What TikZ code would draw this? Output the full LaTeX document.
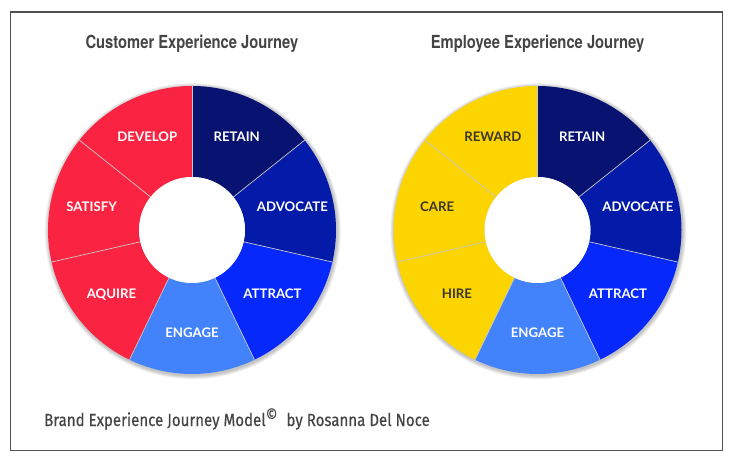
\documentclass[tikz,border=0pt]{standalone}
\usepackage{fontspec}
\setmainfont{Lato}
\newfontfamily\headfont[FakeStretch=0.82]{TeX Gyre Heros}
\newfontfamily\footfont[FakeStretch=0.86, FakeBold=0.5]{Fira Sans}

\definecolor{retainblue}{RGB}{8,18,112}
\definecolor{advocateblue}{RGB}{4,26,168}
\definecolor{attractblue}{RGB}{6,40,250}
\definecolor{engageblue}{RGB}{66,130,250}
\definecolor{custred}{RGB}{250,36,66}
\definecolor{empyellow}{RGB}{252,212,0}
\definecolor{textgray}{RGB}{68,68,68}
\definecolor{framegray}{RGB}{80,80,80}
\definecolor{darklbl}{RGB}{58,54,40}

\tikzset{
  seglabel/.style={font=\bfseries\fontsize{13.2}{15}\selectfont, text=white},
  darklabel/.style={seglabel, text=darklbl},
  divider/.style={draw=white!55!gray, line width=0.7pt},
  heading/.style={font=\headfont\bfseries\fontsize{18}{21}\selectfont, text=textgray, anchor=base},
}

\begin{document}
\begin{tikzpicture}[x=1pt,y=1pt]
  \useasboundingbox (0,0) rectangle (730,460);
  \draw[framegray, line width=1.2pt] (10.5,9.5) rectangle (722.5,448);

  \node[heading] (custtitle) at (192,411) {Customer Experience Journey};
  \node[heading] (emptitle) at (537.5,411) {Employee Experience Journey};

  % customer wheel
  \begin{scope}[shift={(192,230)}]
    \foreach \i in {1,...,5} \fill[black, opacity=0.05] (0.8,-1.2) circle (144+\i*0.8);
    \foreach \col/\txt/\sty [count=\k from 0] in {retainblue/RETAIN/seglabel, advocateblue/ADVOCATE/seglabel, attractblue/ATTRACT/seglabel, engageblue/ENGAGE/seglabel, custred/AQUIRE/seglabel, custred/SATISFY/seglabel, custred/DEVELOP/seglabel} {
      \fill[\col] ({90-\k*360/7}:144) arc[start angle={90-\k*360/7}, end angle={90-(\k+1)*360/7}, radius=144]
        -- ({90-(\k+1)*360/7}:53) arc[start angle={90-(\k+1)*360/7}, end angle={90-\k*360/7}, radius=53] -- cycle;
      \node[\sty] (cust-\k) at ({90-(\k+0.5)*360/7}:103) {\txt};
    }
    \foreach \k in {0,...,6} \draw[divider] ({90-\k*360/7}:53) -- ({90-\k*360/7}:144);
    \fill[white] (0,0) circle (53);
  \end{scope}

  % employee wheel
  \begin{scope}[shift={(537.5,230)}]
    \foreach \i in {1,...,5} \fill[black, opacity=0.05] (0.8,-1.2) circle (144+\i*0.8);
    \foreach \col/\txt/\sty [count=\k from 0] in {retainblue/RETAIN/seglabel, advocateblue/ADVOCATE/seglabel, attractblue/ATTRACT/seglabel, engageblue/ENGAGE/seglabel, empyellow/HIRE/darklabel, empyellow/CARE/darklabel, empyellow/REWARD/darklabel} {
      \fill[\col] ({90-\k*360/7}:144) arc[start angle={90-\k*360/7}, end angle={90-(\k+1)*360/7}, radius=144]
        -- ({90-(\k+1)*360/7}:53) arc[start angle={90-(\k+1)*360/7}, end angle={90-\k*360/7}, radius=53] -- cycle;
      \node[\sty] (emp-\k) at ({90-(\k+0.5)*360/7}:103) {\txt};
    }
    \foreach \k in {0,...,6} \draw[divider] ({90-\k*360/7}:53) -- ({90-\k*360/7}:144);
    \fill[white] (0,0) circle (53);
  \end{scope}

  \node[font=\footfont\fontsize{17.5}{20}\selectfont, text=textgray, anchor=base west, inner sep=0pt] (credit) at (44,34)
    {Brand Experience Journey Model\raisebox{5pt}{\fontsize{17}{17}\selectfont ©}\hspace{9pt}by Rosanna Del Noce};
\end{tikzpicture}
\end{document}
